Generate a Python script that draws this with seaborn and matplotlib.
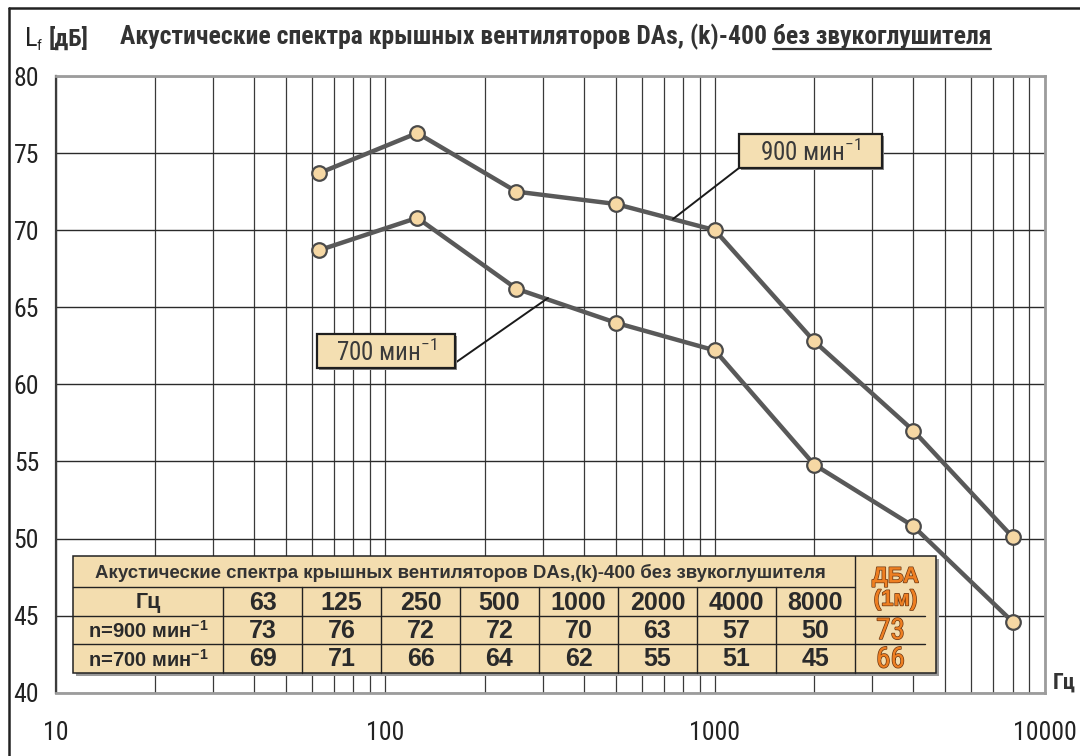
import numpy as np
import pandas as pd
import seaborn as sns
import matplotlib
matplotlib.use("Agg")
import matplotlib.pyplot as plt
from matplotlib import font_manager as fm
import matplotlib.patheffects as pe
from matplotlib.lines import Line2D
from matplotlib.patches import Rectangle
from matplotlib.ticker import LogLocator, NullFormatter, FixedLocator, FixedFormatter

# ---------------- data ----------------
freqs = [63, 125, 250, 500, 1000, 2000, 4000, 8000]
curve_900 = [73.7, 76.3, 72.5, 71.7, 70.0, 62.8, 57.0, 50.1]
curve_700 = [68.7, 70.8, 66.2, 64.0, 62.2, 54.8, 50.8, 44.6]
series_names = ["900", "700"]
box_labels = ["900 мин$^{-1}$", "700 мин$^{-1}$"]

table_title = "Акустические спектра крышных вентиляторов DAs,(k)-400 без звукоглушителя"
table_hz = ["63", "125", "250", "500", "1000", "2000", "4000", "8000"]
table_900 = [73, 76, 72, 72, 70, 63, 57, 50]
table_700 = [69, 71, 66, 64, 62, 55, 51, 45]
row_labels = ["Гц", "n=900 мин$^{\\mathbf{-1}}$", "n=700 мин$^{\\mathbf{-1}}$"]
dba_header = ["ДБА", "(1м)"]
dba_values = [73, 66]

y_ticks = [40, 45, 50, 55, 60, 65, 70, 75, 80]
x_ticks = [10, 100, 1000, 10000]
x_ticklabels = ["10", "100", "1000", "10000"]

title_main = "Акустические спектра крышных вентиляторов DAs, (k)-400"
title_under = "без звукоглушителя"
y_unit = ["L", "f", "[дБ]"]
x_unit = "Гц"

# ---------------- fonts ----------------
avail = {f.name for f in fm.fontManager.ttflist}
NARROW = next((c for c in ["Liberation Sans Narrow", "Roboto Condensed",
                           "Open Sans Condensed", "Liberation Sans", "Roboto"] if c in avail), "DejaVu Sans")
SANS = "Liberation Sans" if "Liberation Sans" in avail else "DejaVu Sans"

sns.set_theme(style="white")
plt.rcParams["font.family"] = [SANS, "DejaVu Sans"]
plt.rcParams["mathtext.fontset"] = "custom"
plt.rcParams["mathtext.rm"] = NARROW
plt.rcParams["mathtext.bf"] = SANS + ":bold"

W, H = 1080, 756
fig = plt.figure(figsize=(W / 100, H / 100), dpi=100)
fig.patch.set_facecolor("white")

def fx(px):
    return px / W

def fy(py):
    return 1 - py / H

# axes: left 55.7, right 1044.5, top 76, bottom 692.7 (pixels)
AL, AR, AT, AB = 55.7, 1044.5, 76.0, 692.7
ax = fig.add_axes([fx(AL), fy(AB), (AR - AL) / W, (AB - AT) / H])
ax.set_xscale("log")
ax.set_xlim(10, 10000)
ax.set_ylim(40, 80)

# grid
ax.xaxis.set_major_locator(FixedLocator(x_ticks))
ax.xaxis.set_major_formatter(FixedFormatter(x_ticklabels))
ax.xaxis.set_minor_locator(LogLocator(base=10, subs=np.arange(2, 10)))
ax.xaxis.set_minor_formatter(NullFormatter())
ax.yaxis.set_major_locator(FixedLocator(y_ticks))
ax.grid(which="both", axis="x", color="#3a3a3a", lw=0.9, zorder=0)
ax.grid(which="major", axis="y", color="#2a2a2a", lw=1.0, zorder=0)
ax.set_axisbelow(True)

df = pd.DataFrame({
    "f": freqs * 2,
    "L": curve_900 + curve_700,
    "n": [series_names[0]] * len(freqs) + [series_names[1]] * len(freqs),
})
sns.lineplot(data=df, x="f", y="L", hue="n", style="n",
             palette=["#595959", "#595959"], markers=["o", "o"], dashes=False,
             linewidth=3.2, markersize=10.5, markerfacecolor="#F6D8A4",
             mec="#4a4a4a", mew=1.6, legend=False, errorbar=None, sort=False,
             ax=ax, zorder=5)
ax.set_xlabel("")
ax.set_ylabel("")

# spines
for s in ["top", "right", "bottom"]:
    ax.spines[s].set_color("#9c9c9c")
    ax.spines[s].set_linewidth(2.0)
ax.spines["left"].set_color("#3c3c3c")
ax.spines["left"].set_linewidth(1.6)

ax.tick_params(axis="x", which="major", direction="out", length=4.5, width=1.2,
               color="#888888", pad=16, labelsize=18.5, labelcolor="#222222")
ax.tick_params(axis="x", which="minor", length=0)
ax.tick_params(axis="y", which="major", direction="out", length=4, width=1.2,
               color="#777777", pad=8, labelsize=18.5, labelcolor="#222222")
for lab in ax.get_xticklabels() + ax.get_yticklabels():
    lab.set_fontfamily(NARROW)

renderer = fig.canvas.get_renderer()

def fit(t, width_px):
    bb = t.get_window_extent(renderer)
    t.set_fontsize(t.get_fontsize() * width_px / bb.width)

# ---------------- outer frame ----------------
fig.add_artist(Line2D([fx(9), fx(9)], [fy(8), fy(H + 5)], color="#222222", lw=1.8))
fig.add_artist(Line2D([fx(9), fx(W + 5)], [fy(8), fy(8)], color="#222222", lw=1.8))

# ---------------- title ----------------
full = fig.text(fx(120), fy(44), title_main + " " + title_under, fontsize=15,
                fontweight="bold", family=NARROW, color="#333333", va="baseline")
fit(full, 873)
fs_title = full.get_fontsize()
w_full = full.get_window_extent(renderer).width
tmp = fig.text(0, 0, title_under, fontsize=fs_title, fontweight="bold", family=NARROW)
w_under = tmp.get_window_extent(renderer).width
tmp.remove()
full.remove()
fig.text(fx(120), fy(44), title_main, fontsize=fs_title, fontweight="bold",
         family=NARROW, color="#333333", va="baseline")
x_u = 120 + w_full - w_under
fig.text(fx(x_u), fy(44), title_under, fontsize=fs_title, fontweight="bold",
         family=NARROW, color="#333333", va="baseline")
fig.add_artist(Line2D([fx(x_u), fx(120 + w_full)], [fy(48.5), fy(48.5)],
                      color="#333333", lw=1.6))

# y unit label
fig.text(fx(25), fy(46), y_unit[0], fontsize=19, family=NARROW, color="#222222", va="baseline")
fig.text(fx(36), fy(50), y_unit[1], fontsize=11, family=NARROW, color="#222222", va="baseline")
fig.text(fx(49), fy(46), y_unit[2], fontsize=17.5, family=NARROW, fontweight="bold",
         color="#333333", va="baseline")
# x unit label
fig.text(fx(1053), fy(683), x_unit, fontsize=16, family=NARROW, fontweight="bold",
         color="#333333", va="center", ha="left")

# ---------------- curve label boxes ----------------
def label_box(x0, y0, x1, y1, text, lx0, ly0, lx1, ly1):
    fig.add_artist(Line2D([fx(lx0), fx(lx1)], [fy(ly0), fy(ly1)], color="#1a1a1a", lw=1.4, zorder=4))
    fig.add_artist(Rectangle((fx(x0 + 2), fy(y1 + 2)), (x1 - x0) / W, (y1 - y0) / H,
                             transform=fig.transFigure, facecolor="#8a8a8a",
                             edgecolor="none", zorder=4))
    fig.add_artist(Rectangle((fx(x0), fy(y1)), (x1 - x0) / W, (y1 - y0) / H,
                             transform=fig.transFigure, facecolor="#F4DFB2",
                             edgecolor="#1e1e1e", lw=1.6, zorder=5))
    fig.text(fx((x0 + x1) / 2), fy((y0 + y1) / 2 + 1), text, fontsize=18, family=NARROW,
             color="#3a3a3a", ha="center", va="center", zorder=6)

label_box(739, 134, 882, 168, box_labels[0], 739, 168, 673, 219)
label_box(317, 334, 455, 368, box_labels[1], 455, 363, 548, 298)

# ---------------- table ----------------
TL, TR = 73, 936
col_edges = [73, 223, 302, 381, 460, 539, 618, 697, 776, 855, 936]
row_edges = [556, 587, 616, 644, 673]
fill = "#F3DDAF"
edge = "#222222"
txt = "#2a2a2a"
z = 7

fig.add_artist(Rectangle((fx(TL + 3), fy(row_edges[-1] + 3)), (TR - TL) / W,
                         (row_edges[-1] - row_edges[0]) / H, transform=fig.transFigure,
                         facecolor="#9a9a9a", edgecolor="none", zorder=z))
fig.add_artist(Rectangle((fx(TL), fy(row_edges[-1])), (TR - TL) / W,
                         (row_edges[-1] - row_edges[0]) / H, transform=fig.transFigure,
                         facecolor=fill, edgecolor=edge, lw=1.1, zorder=z + 0.1))

def hline(x0, x1, y):
    fig.add_artist(Line2D([fx(x0), fx(x1)], [fy(y), fy(y)], color=edge, lw=1.0, zorder=z + 0.2))

def vline(x, y0, y1):
    fig.add_artist(Line2D([fx(x), fx(x)], [fy(y0), fy(y1)], color=edge, lw=1.0, zorder=z + 0.2))

hline(TL, 855, row_edges[1])
hline(TL, 855, row_edges[2])
hline(TL, 855, row_edges[3])
hline(855, 925, row_edges[2])
hline(855, 925, row_edges[3])
for xe in col_edges[1:-2]:
    vline(xe, row_edges[1], row_edges[-1])
vline(855, row_edges[0], row_edges[-1])

# table title
tt = fig.text(fx(95), fy((row_edges[0] + row_edges[1]) / 2 + 1), table_title, fontsize=12.5,
              fontweight="bold", color="#333333", ha="left", va="center", zorder=z + 1)
fit(tt, 735)

def cell_text(col, row, s, **kw):
    xc = (col_edges[col] + col_edges[col + 1]) / 2
    yc = (row_edges[row] + row_edges[row + 1]) / 2 + 1
    fig.text(fx(xc), fy(yc), s, ha="center", va="center", zorder=z + 1, **kw)

cell_text(0, 1, row_labels[0], fontsize=15.5, fontweight="bold", color=txt)
cell_text(0, 2, row_labels[1], fontsize=14.5, fontweight="bold", color=txt)
cell_text(0, 3, row_labels[2], fontsize=14.5, fontweight="bold", color=txt)
for i in range(len(table_hz)):
    cell_text(i + 1, 1, table_hz[i], fontsize=18, fontweight="bold", color=txt)
    cell_text(i + 1, 2, str(table_900[i]), fontsize=18, fontweight="bold", color=txt)
    cell_text(i + 1, 3, str(table_700[i]), fontsize=18, fontweight="bold", color=txt)

orange = "#EE7F22"
outline = [pe.withStroke(linewidth=1.0, foreground="#6b3510")]
xd = (855 + 936) / 2
fig.text(fx(xd), fy(577), dba_header[0], fontsize=16, fontweight="bold", color=orange,
         ha="center", va="center", zorder=z + 1, path_effects=outline)
fig.text(fx(xd), fy(600), dba_header[1], fontsize=16, fontweight="bold", color=orange,
         ha="center", va="center", zorder=z + 1, path_effects=outline)
fig.text(fx(xd - 5), fy((row_edges[2] + row_edges[3]) / 2 + 1), str(dba_values[0]), fontsize=21,
         family=NARROW, color=orange, ha="center", va="center", zorder=z + 1, path_effects=outline)
fig.text(fx(xd - 5), fy((row_edges[3] + row_edges[4]) / 2 + 1), str(dba_values[1]), fontsize=21,
         family=NARROW, color=orange, ha="center", va="center", zorder=z + 1, path_effects=outline)

fig.savefig("out.png", dpi=100)
